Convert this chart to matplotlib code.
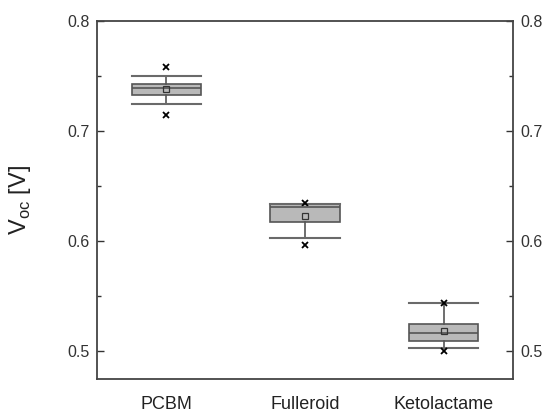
import matplotlib
matplotlib.use("Agg")
import matplotlib.pyplot as plt

plt.rcParams['font.family'] = ['Liberation Sans', 'DejaVu Sans']

labels = ['PCBM', 'Fulleroid', 'Ketolactame']
q1 = [0.7325, 0.6170, 0.5091]
med = [0.7388, 0.6306, 0.5166]
q3 = [0.7427, 0.6334, 0.5243]
whislo = [0.7245, 0.6027, 0.5030]
whishi = [0.7503, 0.6340, 0.5434]
means = [0.7379, 0.6230, 0.5185]
vmin = [0.7145, 0.5964, 0.5003]
vmax = [0.7579, 0.6343, 0.5434]

stats = []
for i in range(len(labels)):
    stats.append(dict(label=labels[i], q1=q1[i], med=med[i], q3=q3[i],
                      whislo=whislo[i], whishi=whishi[i], mean=means[i],
                      fliers=[vmin[i], vmax[i]]))

fig = plt.figure(figsize=(5.44, 4.12), dpi=100)
ax = fig.add_axes([97/544, 1 - 379/412, 416/544, 358/412])

edge = '#555555'
ax.bxp(stats, positions=[1, 2, 3], widths=0.5, capwidths=0.5,
       showmeans=True, patch_artist=True,
       boxprops=dict(facecolor='#b9b9b9', edgecolor=edge, linewidth=1.2),
       medianprops=dict(color=edge, linewidth=1.2),
       whiskerprops=dict(color=edge, linewidth=1.2),
       capprops=dict(color='#6a6a6a', linewidth=1.5),
       meanprops=dict(marker='s', markerfacecolor='none', markeredgecolor='#333333',
                      markersize=5, markeredgewidth=0.9),
       flierprops=dict(marker='x', markeredgecolor='black', markersize=5,
                       markeredgewidth=1.3))

ax.set_xlim(0.5, 3.5)
ax.set_ylim(0.4745, 0.8)
ax.set_yticks([0.5, 0.6, 0.7, 0.8])
ax.set_yticks([0.55, 0.65, 0.75], minor=True)
ax.yaxis.set_major_formatter(matplotlib.ticker.FormatStrFormatter('%.1f'))
ax.tick_params(axis='y', which='both', direction='in', right=True, labelright=True,
               labelsize=11.5, colors='#333333', pad=5)
ax.tick_params(axis='y', which='major', length=5, width=1)
ax.tick_params(axis='y', which='minor', length=3, width=1)
ax.tick_params(axis='x', length=0, labelsize=13, colors='#222222', pad=12)
for s in ax.spines.values():
    s.set_color('#444444')
    s.set_linewidth(1.3)

ax.set_ylabel('V$_{\\mathregular{oc}}$ [V]', fontsize=17, color='#222222', labelpad=25)

fig.savefig('out.png', dpi=100)
